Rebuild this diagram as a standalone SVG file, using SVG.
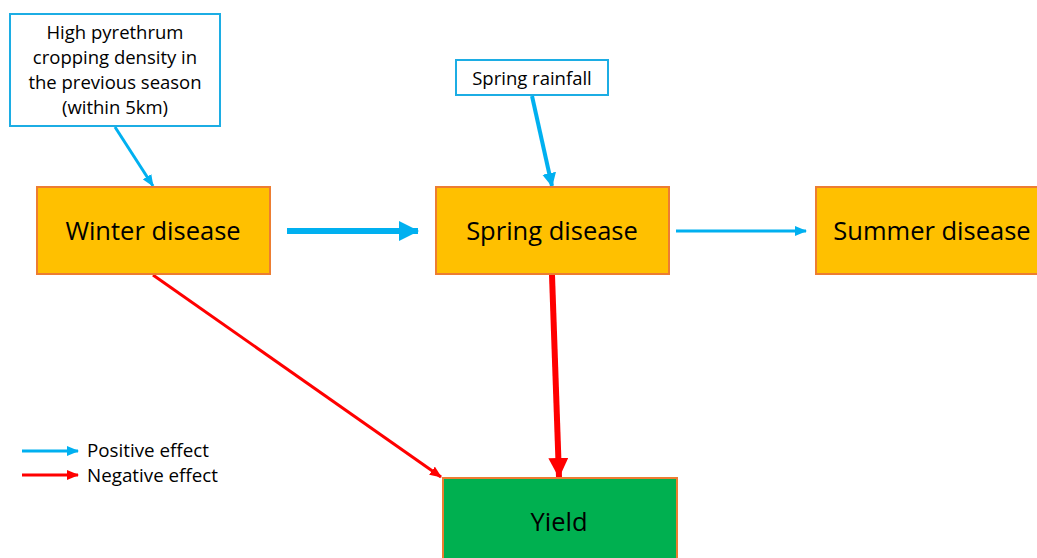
<svg xmlns="http://www.w3.org/2000/svg" width="1037" height="558" viewBox="0 0 1037 558">
<style>
.box{fill:#FFC000;stroke:#ED7D31;stroke-width:2}
.yield{fill:#00B050;stroke:#ED7D31;stroke-width:2}
.note{fill:#FFFFFF;stroke:#1CADE4;stroke-width:2}
.big{font-family:"Open Sans","Liberation Sans",Arial,sans-serif;font-size:25.5px;fill:#000;text-anchor:middle;dominant-baseline:central}
.sm{font-family:"Open Sans","Liberation Sans",Arial,sans-serif;font-size:18.5px;fill:#000;text-anchor:middle;dominant-baseline:central}
.leg{font-family:"Open Sans","Liberation Sans",Arial,sans-serif;font-size:18.8px;fill:#000;dominant-baseline:central}
.pos{stroke:#00B0F0;fill:none}
.neg{stroke:#FF0000;fill:none}
</style>
<defs>
<marker id="hb" markerUnits="userSpaceOnUse" markerWidth="12" markerHeight="10" refX="11" refY="5" orient="auto"><path d="M0,0 L12,5 L0,10 Z" fill="#00B0F0"/></marker>
<marker id="hbL" markerUnits="userSpaceOnUse" markerWidth="20" markerHeight="20" refX="19" refY="10" orient="auto"><path d="M0,0 L20,10 L0,20 Z" fill="#00B0F0"/></marker>
<marker id="hbM" markerUnits="userSpaceOnUse" markerWidth="14" markerHeight="14" refX="13" refY="7" orient="auto"><path d="M0,0 L14,7 L0,14 Z" fill="#00B0F0"/></marker>
<marker id="hr" markerUnits="userSpaceOnUse" markerWidth="12" markerHeight="10" refX="11" refY="5" orient="auto"><path d="M0,0 L12,5 L0,10 Z" fill="#FF0000"/></marker>
<marker id="hrL" markerUnits="userSpaceOnUse" markerWidth="20" markerHeight="20" refX="19" refY="10" orient="auto"><path d="M0,0 L20,10 L0,20 Z" fill="#FF0000"/></marker>
</defs>
<rect width="1037" height="558" fill="#FFFFFF"/>
<g id="connectors">
<line class="pos" x1="115" y1="127" x2="153" y2="186" stroke-width="3" marker-end="url(#hb)"/>
<line class="pos" x1="287" y1="231" x2="418" y2="231" stroke-width="6" marker-end="url(#hbL)"/>
<line class="pos" x1="532" y1="96" x2="552" y2="186" stroke-width="4" marker-end="url(#hbM)"/>
<line class="pos" x1="676" y1="231" x2="806" y2="231" stroke-width="3" marker-end="url(#hb)"/>
<line class="neg" x1="153" y1="275" x2="441" y2="477" stroke-width="3" marker-end="url(#hr)"/>
<line class="neg" x1="552" y1="275" x2="559" y2="477" stroke-width="6" marker-end="url(#hrL)"/>
</g>
<g id="note-density">
<rect class="note" x="10" y="14" width="210" height="112"/>
<text class="sm" x="115" y="31">High pyrethrum</text>
<text class="sm" x="115" y="56">cropping density in</text>
<text class="sm" x="115" y="81">the previous season</text>
<text class="sm" x="115" y="106">(within 5km)</text>
</g>
<g id="note-rainfall">
<rect class="note" x="456" y="60" width="152" height="35"/>
<text class="sm" x="532" y="77">Spring rainfall</text>
</g>
<g id="winter">
<rect class="box" x="37" y="187" width="233" height="87"/>
<text class="big" x="153" y="230">Winter disease</text>
</g>
<g id="spring">
<rect class="box" x="436" y="187" width="233" height="87"/>
<text class="big" x="552" y="230">Spring disease</text>
</g>
<g id="summer">
<rect class="box" x="816" y="187" width="233" height="87"/>
<text class="big" x="932" y="230">Summer disease</text>
</g>
<g id="yield">
<rect class="yield" x="443" y="478" width="234" height="90"/>
<text class="big" x="559" y="521">Yield</text>
</g>
<g id="legend">
<line class="pos" x1="22" y1="451" x2="78" y2="451" stroke-width="3" marker-end="url(#hb)"/>
<text class="leg" x="87" y="450">Positive effect</text>
<line class="neg" x1="22" y1="475" x2="78" y2="475" stroke-width="3" marker-end="url(#hr)"/>
<text class="leg" x="87" y="475">Negative effect</text>
</g>
</svg>
